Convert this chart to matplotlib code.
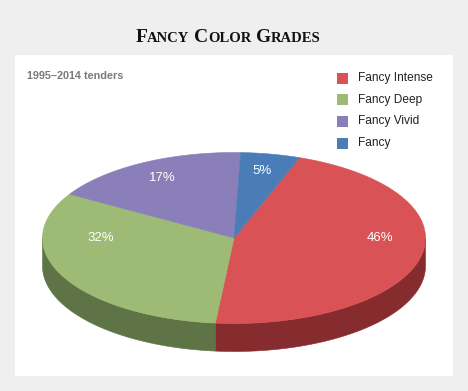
import matplotlib

matplotlib.use("Agg")
import matplotlib.pyplot as plt
import numpy as np
from matplotlib.patches import Polygon, Rectangle

grades = ["Fancy Intense", "Fancy Deep", "Fancy Vivid", "Fancy"]
shares = [46, 32, 17, 5]
top_colors = ["#d95356", "#9dbb74", "#8a7fb8", "#4a7db8"]
side_colors = ["#862c2f", "#5e7447", "#4f4670", "#2c4c70"]

title_words = [("F", "ANCY"), ("C", "OLOR"), ("G", "RADES")]
subtitle = "1995\u20132014 tenders"

# pie geometry in pixel units
CX, CY = 234, 238
RX, RY = 191.5, 85.5
DEPTH = 28
START = 70  # degrees, slices run clockwise from here
SANS = "Liberation Sans"


def rim(t_deg, drop=0.0):
    t = np.radians(t_deg)
    return CX + RX * np.cos(t), CY - RY * np.sin(t) + drop


fig = plt.figure(figsize=(4.68, 3.91), dpi=100)
fig.patch.set_facecolor("#f0efef")
ax = fig.add_axes([0, 0, 1, 1])
ax.set_xlim(0, 468)
ax.set_ylim(391, 0)
ax.axis("off")
ax.add_patch(Rectangle((15, 55), 438, 321, facecolor="white", edgecolor="none"))

total = float(sum(shares))
spans = []
hi = START
for s in shares:
    lo = hi - s / total * 360.0
    spans.append((lo, hi))
    hi = lo

# side walls (front half only)
for (lo, hi), col in zip(spans, side_colors):
    for k in range(-2, 2):
        a = max(lo, 180 + 360 * k)
        b = min(hi, 360 + 360 * k)
        if b <= a:
            continue
        t = np.linspace(a, b, 80)
        xt, yt = rim(t)
        xb, yb = rim(t[::-1], DEPTH)
        pts = np.column_stack([np.r_[xt, xb], np.r_[yt, yb]])
        ax.add_patch(Polygon(pts, closed=True, facecolor=col, edgecolor=col, lw=0.4))

# top face
for (lo, hi), col in zip(spans, top_colors):
    t = np.linspace(lo, hi, 120)
    x, y = rim(t)
    pts = np.column_stack([np.r_[CX, x], np.r_[CY, y]])
    ax.add_patch(Polygon(pts, closed=True, facecolor=col, edgecolor=col, lw=0.4))

# percentage labels
for (lo, hi), s in zip(spans, shares):
    mid = np.radians((lo + hi) / 2)
    lx = CX + 0.78 * RX * np.cos(mid)
    ly = CY - 0.8 * RY * max(np.sin(mid), 0)
    ax.text(lx, ly, f"{s}%", color="white", fontsize=9.5, family=SANS,
            ha="center", va="center")

# legend
for i, (g, col) in enumerate(zip(grades, top_colors)):
    yc = 78 + i * 21.7
    ax.add_patch(Rectangle((337, yc - 5.5), 11, 11, facecolor=col, edgecolor="none"))
    ax.text(358, yc, g, color="#222222", fontsize=8.6, family=SANS, va="center")

ax.text(27, 76, subtitle, color="#7a7a7a", fontsize=7.8, family=SANS,
        fontweight="bold", va="center")

# small-caps title built from pieces
renderer = fig.canvas.get_renderer()
pieces = []
x = 0.0
for big, small in title_words:
    for txt, size in ((big, 14), (small, 10.5)):
        t = ax.text(x, 42, txt, fontsize=size, family="Liberation Serif",
                    fontweight="bold", color="#111111", va="baseline")
        x += t.get_window_extent(renderer).width
        pieces.append(t)
    x += 4.5
width = x - 4.5
shift = 228 - width / 2
for t in pieces:
    px, py = t.get_position()
    t.set_position((px + shift, py))

fig.savefig("out.png", dpi=100)
